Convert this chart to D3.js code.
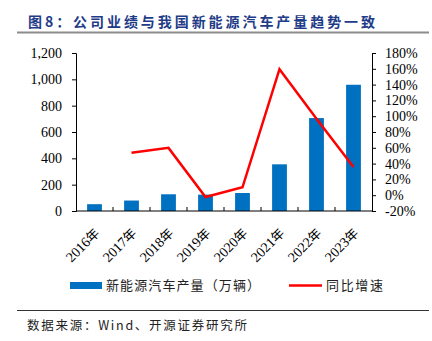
<!DOCTYPE html>
<html><head><meta charset="utf-8">
<script src="https://cdn.jsdelivr.net/npm/d3@7"></script>
<style>body{margin:0;background:#fff}svg{display:block}</style>
</head><body>
<svg id="c" width="432" height="341"></svg>
<script>
const categories = ["2016年","2017年","2018年","2019年","2020年","2021年","2022年","2023年"];
const production = [51.7, 79.4, 127.0, 124.2, 136.6, 354.5, 705.8, 958.7];
const growth = [null, 53.8, 59.9, -2.3, 10.0, 159.5, 96.9, 35.8];
const leftTicks = [0,200,400,600,800,1000,1200];
const rightTicks = [-20,0,20,40,60,80,100,120,140,160,180];

const svg = d3.select("#c");
const L = 76, R = 372, T = 53, B = 211;
const serif = "'Liberation Serif','Times New Roman',serif";
const cjk = "'Noto Sans CJK SC','Noto Sans',sans-serif";

// title
svg.append("text").attr("x",28).attr("y",27)
  .attr("font-family",cjk).attr("font-weight","bold").attr("font-size",14)
  .attr("fill","#1F3C88").attr("textLength",347).attr("lengthAdjust","spacing")
  .text("图8：公司业绩与我国新能源汽车产量趋势一致");
svg.append("line").attr("x1",17).attr("x2",429).attr("y1",32.5).attr("y2",32.5)
  .attr("stroke","#8c8c8c").attr("stroke-width",2);

const x = d3.scaleBand().domain(categories).range([L,R]).paddingInner(0.6).paddingOuter(0.3);
const xc = d => x(d) + x.bandwidth()/2;
const yL = d3.scaleLinear().domain([0,1200]).range([B,T]);
const yR = d3.scaleLinear().domain([-20,180]).range([B,T]);

// bars
svg.append("g").selectAll("rect").data(production).join("rect")
  .attr("x",(d,i)=>x(categories[i])).attr("width",x.bandwidth())
  .attr("y",d=>yL(d)).attr("height",d=>B-yL(d)).attr("fill","#0070C0");

// line
const pts = growth.map((g,i)=>[categories[i],g]).filter(d=>d[1]!==null);
svg.append("path").datum(pts)
  .attr("d",d3.line().x(d=>xc(d[0])).y(d=>yR(d[1])))
  .attr("fill","none").attr("stroke","#FF0000").attr("stroke-width",2.5);

// left axis
const gl = svg.append("g").attr("transform",`translate(${L},0)`)
  .call(d3.axisLeft(yL).tickValues(leftTicks).tickSize(4).tickPadding(10).tickFormat(d3.format(",")));
gl.select(".domain").attr("stroke","#000");
gl.selectAll("text").attr("font-family",serif).attr("font-size",14).attr("fill","#000");

// right axis
const gr = svg.append("g").attr("transform",`translate(${R},0)`)
  .call(d3.axisRight(yR).tickValues(rightTicks).tickSize(4).tickPadding(9).tickFormat(d=>d+"%"));
gr.selectAll("text").attr("font-family",serif).attr("font-size",14).attr("fill","#000");

// bottom axis
const gb = svg.append("g").attr("transform",`translate(0,${B})`);
gb.append("line").attr("x1",L).attr("x2",R).attr("stroke","#000");
const bounds = d3.range(1,categories.length).map(i=>L+ (R-L)/categories.length*i);
gb.selectAll(".tk").data(bounds).join("line").attr("x1",d=>d).attr("x2",d=>d)
  .attr("y1",0).attr("y2",-4).attr("stroke","#000");
gb.selectAll(".lb").data(categories).join("text")
  .attr("transform",d=>`translate(${xc(d)-1},${16}) rotate(-45)`)
  .attr("text-anchor","end").attr("dy","0.7em")
  .attr("font-size",14).attr("fill","#000")
  .each(function(d){
    const t=d3.select(this);
    t.append("tspan").attr("font-family",serif).text(d.slice(0,4));
    t.append("tspan").attr("font-family",cjk).attr("font-size",13).text(d.slice(4));
  });

// legend
svg.append("rect").attr("x",70).attr("y",282).attr("width",32).attr("height",7).attr("fill","#0070C0");
svg.append("text").attr("x",106).attr("y",290).attr("font-family",cjk).attr("font-size",13)
  .attr("textLength",154).attr("lengthAdjust","spacing").attr("fill","#222").text("新能源汽车产量（万辆）");
svg.append("line").attr("x1",289).attr("x2",322).attr("y1",285.5).attr("y2",285.5)
  .attr("stroke","#FF0000").attr("stroke-width",2.5);
svg.append("text").attr("x",326).attr("y",290).attr("font-family",cjk).attr("font-size",13)
  .attr("textLength",57).attr("lengthAdjust","spacing").attr("fill","#222").text("同比增速");

// footer
svg.append("line").attr("x1",17).attr("x2",429).attr("y1",310.5).attr("y2",310.5)
  .attr("stroke","#333").attr("stroke-width",1);
svg.append("text").attr("x",27).attr("y",330).attr("font-size",12.5).attr("fill","#222")
  .attr("font-family",cjk).attr("textLength",220).attr("lengthAdjust","spacing")
  .text("数据来源：Wind、开源证券研究所");
</script>
</body></html>
